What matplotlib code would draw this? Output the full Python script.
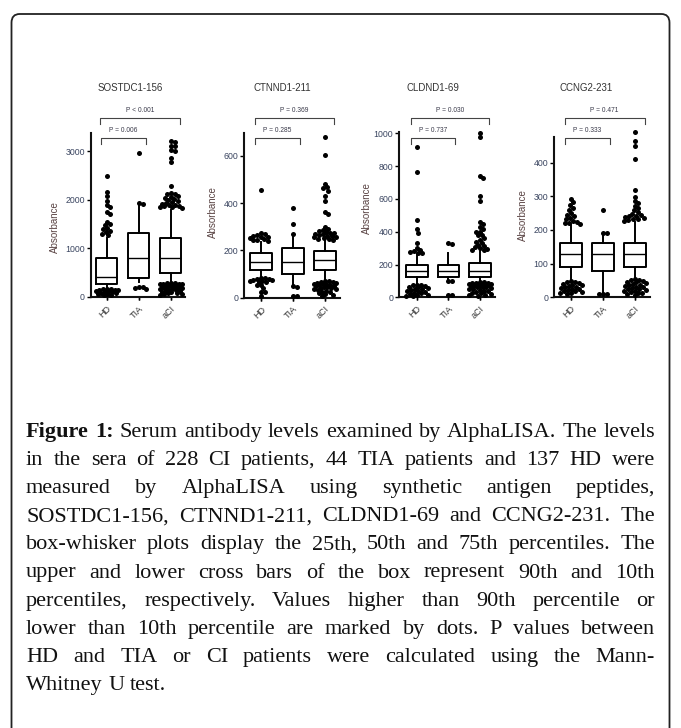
import matplotlib
matplotlib.use('Agg')
import matplotlib.pyplot as plt
from matplotlib.patches import FancyBboxPatch
import matplotlib.transforms as mtransforms
import numpy as np

# ---------------- data ----------------
groups = ['HD', 'TIA', 'aCI']
panel_titles = ['SOSTDC1-156', 'CTNND1-211', 'CLDND1-69', 'CCNG2-231']
p_outer = ['P < 0.001', 'P = 0.369', 'P = 0.030', 'P = 0.471']
p_inner = ['P = 0.006', 'P = 0.285', 'P = 0.737', 'P = 0.333']
y_label = 'Absorbance'

# box stats per group: [10th, 25th, 50th, 75th, 90th]
sost_box = [[180, 260, 420, 795, 1220], [314, 396, 795, 1320, 1870], [300, 487, 795, 1205, 1786]]
sost_out_hd = [2490, 2160, 2080, 1970, 1890, 1840, 1740, 1700, 1550, 1510, 1480, 1420, 1400, 1360, 1330,
               1300, 1270, 170, 165, 160, 150, 145, 140, 130, 120, 110, 100, 90, 80, 70, 60, 50, 40]
sost_out_tia = [2950, 1930, 1920, 210, 200, 180, 160]
sost_out_aci = [3200, 3180, 3110, 3100, 3020, 3000, 2860, 2780, 2280, 2140, 2120, 2110, 2070, 2050, 2040,
                2010, 1990, 1970, 1950, 1930, 1920, 1900, 1890, 1880, 1860, 1850, 1840, 1830,
                290, 285, 280, 275, 270, 265, 260, 255, 250, 245, 240, 230, 225, 220, 210, 200, 195,
                190, 180, 170, 160, 150, 140, 130, 120, 110, 100, 90, 80, 70, 60, 50]

ctn_box = [[85, 119, 152, 190, 235], [53, 102, 152, 208, 257], [74, 117, 159, 197, 243]]
ctn_out_hd = [456, 272, 268, 265, 262, 258, 255, 252, 248, 245, 242, 240,
              84, 82, 80, 78, 76, 74, 72, 70, 68, 66, 53, 52, 39, 25, 24, 8]
ctn_out_tia = [379, 312, 271, 48, 44, 8, 6]
ctn_out_aci = [681, 604, 482, 468, 465, 453, 432, 407, 362, 355, 299, 292, 285, 280, 278, 275, 272, 270,
               268, 265, 262, 260, 258, 255, 252, 250, 248, 246,
               72, 70, 68, 66, 64, 62, 60, 58, 56, 54, 52, 50, 48, 46, 44, 42, 40, 38, 36, 34, 30,
               26, 22, 18, 14, 10, 6]

cld_box = [[80, 126, 163, 197, 265], [110, 122, 163, 197, 268], [96, 126, 163, 207, 283]]
cld_out_hd = [919, 766, 472, 417, 394, 329, 300, 289, 282, 276, 270, 268,
              78, 75, 72, 68, 65, 60, 56, 52, 48, 44, 40, 36, 32, 28, 24, 20, 16, 12, 8, 5]
cld_out_tia = [329, 327, 100, 98, 14, 12]
cld_out_aci = [1005, 980, 742, 730, 620, 588, 461, 447, 431, 415, 400, 398, 380, 378, 360, 350, 340,
               330, 320, 312, 305, 300, 295, 290, 287,
               94, 92, 90, 88, 86, 84, 82, 80, 78, 76, 74, 72, 70, 68, 65, 62, 60, 56, 52, 48, 44,
               40, 36, 32, 28, 24, 20, 16, 12, 8]

ccn_box = [[50, 89, 128, 160, 215], [14, 79, 128, 160, 186], [56, 91, 129, 160, 225]]
ccn_out_hd = [292, 282, 274, 266, 259, 249, 245, 240, 236, 232, 228, 225, 222, 220, 218,
              48, 46, 44, 42, 40, 38, 36, 34, 32, 30, 28, 26, 24, 22, 20, 18, 16, 14, 12, 10]
ccn_out_tia = [258, 191, 190, 11, 10, 9]
ccn_out_aci = [492, 464, 450, 410, 319, 299, 286, 279, 272, 264, 258, 252, 248, 245, 242, 240, 238,
               236, 234, 232, 230, 228,
               54, 52, 50, 48, 46, 44, 42, 40, 38, 36, 34, 32, 30, 28, 26, 24, 22, 20, 18, 16, 14,
               12, 10, 8]

caption_lines = [
    "Figure 1: Serum antibody levels examined by AlphaLISA. The levels",
    "in the sera of 228 CI patients, 44 TIA patients and 137 HD were",
    "measured by AlphaLISA using synthetic antigen peptides,",
    "SOSTDC1-156, CTNND1-211, CLDND1-69 and CCNG2-231. The",
    "box-whisker plots display the 25th, 50th and 75th percentiles. The",
    "upper and lower cross bars of the box represent 90th and 10th",
    "percentiles, respectively. Values higher than 90th percentile or",
    "lower than 10th percentile are marked by dots. P values between",
    "HD and TIA or CI patients were calculated using the Mann-",
    "Whitney U test.",
]

panel_boxes = [sost_box, ctn_box, cld_box, ccn_box]
panel_outs = [[sost_out_hd, sost_out_tia, sost_out_aci],
              [ctn_out_hd, ctn_out_tia, ctn_out_aci],
              [cld_out_hd, cld_out_tia, cld_out_aci],
              [ccn_out_hd, ccn_out_tia, ccn_out_aci]]

# ---------------- layout ----------------
W, H = 681, 728
fig = plt.figure(figsize=(W / 100, H / 100), dpi=100)
fig.patch.set_facecolor('white')

SANS = ['Liberation Sans', 'DejaVu Sans']
SERIF = ['Liberation Serif', 'DejaVu Serif']

# rounded frame
frame = FancyBboxPatch((11.5 / W, -20 / H), (669.5 - 11.5) / W, (H + 20 - 14) / H,
                       boxstyle='round,pad=0,rounding_size=0.012', transform=fig.transFigure,
                       fill=False, edgecolor='#222222', linewidth=1.3)
fig.patches.append(frame)

# axes pixel rects: left, top, right, bottom
rects = [(91, 133, 185, 297), (244.3, 133.3, 340, 297.7), (399.3, 131.7, 495, 297.3), (554.3, 136.7, 650, 297.3)]
xlims = [(0.516, 3.45), (0.476, 3.48), (0.44, 3.48), (0.48, 3.47)]
ylims = [(0, 3370), (0, 695), (0, 1010), (0, 477)]
yticks = [[0, 1000, 2000, 3000], [0, 200, 400, 600], [0, 200, 400, 600, 800, 1000], [0, 100, 200, 300, 400]]
title_x = [130, 282, 433, 586]
ylabel_x = [55, 213, 367, 523]
ylabel_y = [227, 212, 208, 215]

MS = 3.6
DIAM = 4.8


def swarm(ax, xc, vals, max_half_px=11.0, sep=0.8):
    """Place points side by side (beeswarm) in pixel space, return x positions in data units."""
    p0 = ax.transData.transform((xc, 0))
    p1 = ax.transData.transform((xc + 1, 1))
    sx = p1[0] - p0[0]
    sy = p1[1] - p0[1]
    placed = []
    xs = np.zeros(len(vals))
    cands = [0.0]
    step = 0.5
    k = 1
    while k * step <= max_half_px:
        cands += [k * step, -k * step]
        k += 1
    for i in sorted(range(len(vals)), key=lambda j: vals[j], reverse=True):
        y = vals[i] * sy
        best, best_d = 0.0, -1
        for c in cands:
            dmin = 1e9
            for (px, py) in placed:
                if abs(py - y) < DIAM:
                    dmin = min(dmin, np.hypot(px - c, py - y))
            if dmin >= DIAM * sep:
                best = c
                break
            if dmin > best_d:
                best_d, best = dmin, c
        placed.append((best, y))
        xs[i] = xc + best / sx
    return xs


tick_color = '#3a4560'
for p in range(4):
    l, t, r, b = rects[p]
    ax = fig.add_axes([l / W, 1 - b / H, (r - l) / W, (b - t) / H])
    ax.set_xlim(*xlims[p])
    ax.set_ylim(*ylims[p])
    for s in ['top', 'right']:
        ax.spines[s].set_visible(False)
    for s in ['left', 'bottom']:
        ax.spines[s].set_linewidth(1.5)
        ax.spines[s].set_color('#111111')
    ax.set_yticks(yticks[p])
    ax.set_yticklabels([str(v) for v in yticks[p]], fontsize=6.3, family=SANS, color=tick_color)
    ax.tick_params(axis='y', direction='out', length=3, width=1.0, pad=1.5)
    ax.set_xticks([1, 2, 3])
    ax.set_xticklabels(groups, rotation=45, ha='right', rotation_mode='anchor',
                       fontsize=6.5, family=SANS, color='#333333')
    ax.tick_params(axis='x', direction='out', length=2, width=1.0, pad=3)

    stats = []
    for g, vals in enumerate(panel_boxes[p]):
        stats.append(dict(whislo=vals[0], q1=vals[1], med=vals[2], q3=vals[3], whishi=vals[4],
                          fliers=[], label=groups[g]))
    ax.bxp(stats, positions=[1, 2, 3], widths=0.68, showfliers=False, showcaps=False,
           boxprops=dict(color='black', linewidth=1.4),
           whiskerprops=dict(color='black', linewidth=1.4),
           medianprops=dict(color='black', linewidth=1.0))

    for g in range(3):
        vals = panel_outs[p][g]
        xs = swarm(ax, g + 1, vals)
        ax.plot(xs, vals, 'o', ms=MS, color='black', mec='black', mew=0, clip_on=False, zorder=5)

    # brackets
    def yfrac(ypx):
        return (b - ypx) / (b - t)
    trans = mtransforms.blended_transform_factory(ax.transData, ax.transAxes)
    for (x0, x1, yl, txt, yt) in [(0.8, 3.3, 118, p_outer[p], 110.5), (0.82, 2.22, 138, p_inner[p], 130)]:
        ax.plot([x0, x0, x1, x1], [yfrac(yl + 6), yfrac(yl), yfrac(yl), yfrac(yl + 6)],
                color='#444444', lw=0.8, transform=trans, clip_on=False)
        ax.text((x0 + x1) / 2, yfrac(yt), txt, transform=trans, ha='center', va='center',
                fontsize=4.8, family=SANS, color='#3a3a4a')

    fig.text(title_x[p] / W, 1 - 88 / H, panel_titles[p], ha='center', va='center',
             fontsize=7, family=SANS, color='#333333')
    fig.text(ylabel_x[p] / W, 1 - ylabel_y[p] / H, y_label, ha='center', va='center', rotation=90,
             fontsize=7, family=SANS, color='#5a4444')

# ---------------- caption (justified) ----------------
renderer = fig.canvas.get_renderer()
CAP_FS = 16
x_left, x_right = 26, 655
base0, dy = 437, 28.1


def measure(word, bold):
    tt = fig.text(0, 0, word, fontsize=CAP_FS, family=SERIF, weight='bold' if bold else 'normal')
    w = tt.get_window_extent(renderer).width
    tt.remove()
    return w

space_w = measure('a b', False) - measure('ab', False)
for i, line in enumerate(caption_lines):
    words = line.split(' ')
    bolds = [(i == 0 and j < 2) for j in range(len(words))]
    widths = [measure(w, bb) for w, bb in zip(words, bolds)]
    yb = 1 - (base0 + i * dy) / H
    if i == len(caption_lines) - 1:
        gap = space_w
    else:
        gap = (x_right - x_left - sum(widths)) / (len(words) - 1)
    x = x_left
    for w, bb, wd in zip(words, bolds, widths):
        fig.text(x / W, yb, w, fontsize=CAP_FS, family=SERIF, weight='bold' if bb else 'normal',
                 ha='left', va='baseline', color='#111111')
        x += wd + gap

fig.savefig('out.png', dpi=100, facecolor='white')
